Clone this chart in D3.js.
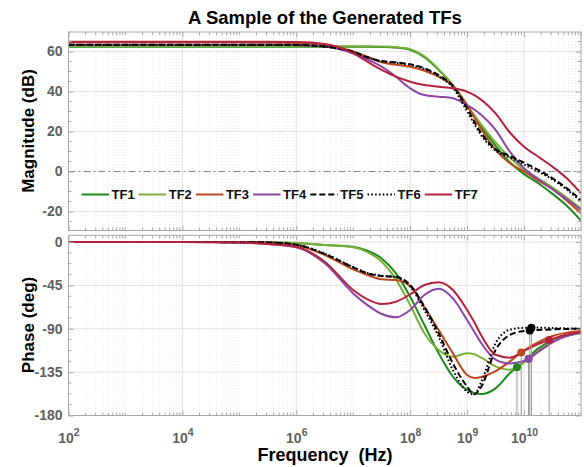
<!DOCTYPE html>
<html><head><meta charset="utf-8">
<script src="https://cdn.jsdelivr.net/npm/d3@7"></script>
<style>
body{margin:0;background:#fff;}
svg{display:block;font-family:"Liberation Sans",Arial,sans-serif;}
</style></head><body>
<svg id="c" width="584" height="467"></svg>
<script>
// ---------- data ----------
const logFreq = [2, 4, 5, 5.5, 6, 6.5, 7, 7.25, 7.5, 7.75, 8, 8.25, 8.5, 8.75, 9, 9.125, 9.25, 9.5, 9.75, 10, 10.25, 10.5, 10.75, 11];
const seriesNames = ["TF1","TF2","TF3","TF4","TF5","TF6","TF7"];

const magTF1 = [62.4,62.4,62.4,62.4,62.4,62.4,62.4,62.4,62.3,62.0,60.8,57.1,50.8,43.2,32.8,27.5,22.4,12.8,4.6,-1.3,-5.9,-11.2,-17.1,-24.6];
const magTF2 = [62.6,62.6,62.6,62.6,62.6,62.6,62.6,62.6,62.5,62.2,61.2,57.6,51.2,43.2,33.2,28.2,23.5,14.5,7.0,1.0,-3.5,-8.0,-13.0,-18.5];
const magTF3 = [64.6,64.6,64.6,64.5,64.3,63.5,60.0,57.4,54.6,53.4,52.4,50.4,47.4,42.8,33.2,27.2,21.1,10.8,4.1,0.0,-4.6,-8.9,-14.6,-20.9];
const magTF4 = [63.4,63.4,63.4,63.4,63.3,62.5,59.1,56.1,52.4,47.4,41.6,38.2,37.4,36.6,33.2,31.0,28.2,20.8,9.9,1.6,-3.9,-8.9,-13.9,-19.2];
const magTF5 = [63.4,63.4,63.4,63.4,63.3,62.5,59.9,57.1,55.2,54.6,53.6,51.6,48.2,42.8,31.6,25.0,19.1,11.1,7.8,4.4,0.8,-3.4,-8.4,-14.2];
const magTF6 = [63.3,63.3,63.3,63.3,63.2,62.4,59.7,57.0,55.0,54.3,53.3,51.2,47.6,42.0,30.0,23.8,18.0,10.5,7.0,3.5,0.0,-4.0,-9.0,-15.0];
const magTF7 = [64.9,64.9,64.9,64.9,64.8,63.8,59.1,54.9,50.8,47.4,44.9,43.2,42.4,41.6,39.9,38.2,35.8,29.1,19.5,12.4,7.4,2.4,-3.4,-10.9];

const phaseTF1 = [0,0,-0.2,-0.4,-1.0,-3.0,-4.8,-9.0,-17.0,-32.5,-56.7,-86.1,-115.5,-139.7,-153.5,-156.5,-157.7,-151.8,-136.2,-124.0,-110.3,-101.7,-96.5,-94.0];
const phaseTF2 = [0,0,-0.2,-0.4,-1.0,-3.0,-5.5,-10.4,-20.4,-38.7,-65.4,-94.7,-112.0,-119.0,-115.5,-116.5,-120.0,-129.0,-132.5,-125.0,-113.0,-102.7,-97.5,-94.7];
const phaseTF3 = [0,0,-0.2,-0.5,-3.0,-13.5,-28.4,-34.2,-38.7,-39.4,-45.6,-67.8,-91.3,-115.5,-138.0,-141.0,-140.0,-134.0,-124.0,-112.5,-104.0,-97.5,-94.0,-92.3];
const phaseTF4 = [0,0,-0.5,-2.0,-5.5,-22.0,-53.3,-65.4,-74.7,-78.1,-70.5,-55.0,-48.5,-58.4,-80.9,-93.0,-105.0,-122.0,-126.0,-123.5,-114.0,-104.0,-97.5,-94.0];
const phaseTF5 = [0,0,-0.2,-0.5,-2.8,-12.4,-26.3,-32.5,-35.3,-36.0,-44.6,-67.0,-94.7,-125.9,-150.0,-158.0,-150.0,-112.0,-96.5,-92.3,-91.3,-90.6,-90.2,-90.0];
const phaseTF6 = [0,0,-0.2,-0.5,-2.8,-12.0,-26.0,-32.0,-35.0,-36.5,-46.3,-70.5,-98.2,-132.8,-155.3,-158.0,-145.0,-105.0,-91.0,-89.0,-88.8,-89.2,-89.6,-90.0];
const phaseTF7 = [0,0,-0.5,-2.0,-4.8,-20.4,-49.8,-59.5,-64.3,-61.9,-54.3,-44.6,-41.8,-49.8,-70.5,-83.0,-97.0,-117.0,-120.0,-113.0,-106.0,-100.5,-96.0,-93.0];

const markerLogFreq = [9.875, 10.08, 9.95, 10.08, 10.1, 10.13, 10.44];

const xTickExps = [2, 4, 6, 8, 9, 10];
const magTicks = [-20, 0, 20, 40, 60];
const phaseTicks = [-180, -135, -90, -45, 0];

const colors = ["#1e8a1e", "#7ab03a", "#bd4a1c", "#8e45a8", "#000000", "#000000", "#b3243c"];
const dashes = [null, null, null, null, "6,3", "1.6,2.2", null];

// ---------- layout ----------
const svg = d3.select("#c");
const X0 = 68.5, X1 = 581;
const x = d3.scaleLog().domain([1e2, 1e11]).range([X0, X1]);
const magTop = 32, magBot = 230.5, phTop = 235.3, phBot = 415.5;
const yMag = d3.scaleLinear().domain([-29.5, 69.75]).range([magBot, magTop]);
const yPh = d3.scaleLinear().domain([-180, 7]).range([phBot, phTop]);

const freqs = logFreq.map(e => Math.pow(10, e));
const mags = [magTF1, magTF2, magTF3, magTF4, magTF5, magTF6, magTF7];
const phases = [phaseTF1, phaseTF2, phaseTF3, phaseTF4, phaseTF5, phaseTF6, phaseTF7];

const majorX = xTickExps.map(e => Math.pow(10, e));
const minorX = [];
for (let n = 2; n <= 10; n++) for (let k = 1; k <= 9; k++) minorX.push(k * Math.pow(10, n));
minorX.push(1e11);
const minorOnly = minorX.filter(v => !majorX.some(m => Math.abs(m - v) / m < 1e-9));

const axisCol = "#a8a8a8", gridCol = "#e2e2e2", labCol = "#5f5f5f";

function panel(y, top, bot, yTicks, id) {
  const g = svg.append("g");
  g.selectAll(null).data(minorOnly).join("line")
    .attr("x1", d => x(d)).attr("x2", d => x(d)).attr("y1", top).attr("y2", bot)
    .attr("stroke", "#e0e0e0").attr("stroke-width", 0.7).attr("stroke-dasharray", "1,2");
  g.selectAll(null).data(majorX).join("line")
    .attr("x1", d => x(d)).attr("x2", d => x(d)).attr("y1", top).attr("y2", bot)
    .attr("stroke", gridCol).attr("stroke-width", 1);
  g.selectAll(null).data(yTicks).join("line")
    .attr("x1", X0).attr("x2", X1).attr("y1", d => y(d)).attr("y2", d => y(d))
    .attr("stroke", gridCol).attr("stroke-width", 1);
  svg.append("clipPath").attr("id", id).append("rect")
    .attr("x", X0).attr("y", top).attr("width", X1 - X0).attr("height", bot - top);
  return g;
}

function frame(y, top, bot, yTicks, yMinor, showXLabels) {
  const g = svg.append("g");
  const left = d3.axisLeft(y).tickValues(yTicks).tickSize(-5).tickPadding(6).tickFormat(d => String(d));
  const gl = g.append("g").attr("transform", `translate(${X0},0)`).call(left);
  gl.select(".domain").remove();
  gl.selectAll(".tick line").attr("stroke", axisCol);
  gl.selectAll(".tick text").attr("fill", labCol).attr("font-size", 14).attr("font-weight", "bold")
    .attr("font-family", "Liberation Sans, Arial, sans-serif");
  const right = d3.axisRight(y).tickValues(yTicks).tickSize(-5).tickFormat("");
  const gr = g.append("g").attr("transform", `translate(${X1},0)`).call(right);
  gr.select(".domain").remove();
  gr.selectAll(".tick line").attr("stroke", axisCol);
  [X0, X1].forEach((xx, i) => {
    g.selectAll(null).data(yMinor).join("line")
      .attr("x1", xx).attr("x2", i === 0 ? xx + 3 : xx - 3)
      .attr("y1", d => y(d)).attr("y2", d => y(d)).attr("stroke", axisCol);
  });
  const bottom = d3.axisBottom(x).tickValues(majorX).tickSize(-5).tickPadding(13).tickFormat(() => "");
  const gb = g.append("g").attr("transform", `translate(0,${bot})`).call(bottom);
  gb.select(".domain").remove();
  gb.selectAll(".tick line").attr("stroke", axisCol);
  const topAx = d3.axisTop(x).tickValues(majorX).tickSize(-5).tickFormat(() => "");
  const gt = g.append("g").attr("transform", `translate(0,${top})`).call(topAx);
  gt.select(".domain").remove();
  gt.selectAll(".tick line").attr("stroke", axisCol);
  [top, bot].forEach((yy, i) => {
    g.selectAll(null).data(minorOnly).join("line")
      .attr("x1", d => x(d)).attr("x2", d => x(d))
      .attr("y1", yy).attr("y2", i === 0 ? yy + 3 : yy - 3).attr("stroke", axisCol);
  });
  if (showXLabels) {
    gb.selectAll(".tick text").each(function(d) {
      const t = d3.select(this).text(null).attr("fill", labCol).attr("font-weight", "bold")
        .attr("font-family", "Liberation Sans, Arial, sans-serif").attr("y", 27).attr("dy", null);
      t.append("tspan").attr("font-size", 14).text("10");
      t.append("tspan").attr("font-size", 10.5).attr("dy", -7).text(Math.round(Math.log10(d)));
    });
  }
  g.append("rect").attr("x", X0).attr("y", top).attr("width", X1 - X0).attr("height", bot - top)
    .attr("fill", "none").attr("stroke", axisCol).attr("stroke-width", 1);
}

// ---------- magnitude panel ----------
panel(yMag, magTop, magBot, magTicks.filter(v => v !== 0), "clipMag");
svg.append("line").attr("x1", X0).attr("x2", X1).attr("y1", yMag(0)).attr("y2", yMag(0))
  .attr("stroke", "#8a8a8a").attr("stroke-width", 1).attr("stroke-dasharray", "7,3,2,3");

const lineMag = d3.line().x(d => x(d[0])).y(d => yMag(d[1])).curve(d3.curveMonotoneX);
const gMag = svg.append("g").attr("clip-path", "url(#clipMag)");
mags.forEach((arr, i) => {
  gMag.append("path").datum(freqs.map((f, j) => [f, arr[j]]))
    .attr("d", lineMag).attr("fill", "none").attr("stroke", colors[i]).attr("stroke-width", 2)
    .attr("stroke-dasharray", dashes[i]);
});
const magMinor = d3.range(-25, 70, 5).filter(v => !magTicks.includes(v));
frame(yMag, magTop, magBot, magTicks, magMinor, false);

// legend
const lg = svg.append("g");
seriesNames.forEach((name, i) => {
  const lx = 81.5 + i * 57.2, ly = 194.5;
  lg.append("line").attr("x1", lx).attr("x2", lx + 27.5).attr("y1", ly).attr("y2", ly)
    .attr("stroke", colors[i]).attr("stroke-width", 2).attr("stroke-dasharray", dashes[i]);
  lg.append("text").attr("x", lx + 30).attr("y", ly + 4.7).text(name)
    .attr("font-size", 13).attr("font-weight", "bold").attr("fill", "#111");
});

// ---------- phase panel ----------
panel(yPh, phTop, phBot, phaseTicks, "clipPh");
const linePh = d3.line().x(d => x(d[0])).y(d => yPh(d[1])).curve(d3.curveMonotoneX);
const gPh = svg.append("g").attr("clip-path", "url(#clipPh)");
const phPaths = phases.map((arr, i) =>
  gPh.append("path").datum(freqs.map((f, j) => [f, arr[j]]))
    .attr("d", linePh).attr("fill", "none").attr("stroke", colors[i]).attr("stroke-width", 2)
    .attr("stroke-dasharray", dashes[i]).node());

function pointAtX(path, tx) {
  const L = path.getTotalLength();
  let lo = 0, hi = L;
  for (let k = 0; k < 40; k++) {
    const mid = (lo + hi) / 2;
    if (path.getPointAtLength(mid).x < tx) lo = mid; else hi = mid;
  }
  return path.getPointAtLength((lo + hi) / 2);
}
const mk = svg.append("g");
const markerPts = markerLogFreq.map((e, i) => pointAtX(phPaths[i], x(Math.pow(10, e))));
markerPts.forEach(p => {
  mk.append("line").attr("x1", p.x).attr("x2", p.x).attr("y1", p.y).attr("y2", phBot)
    .attr("stroke", "#9a9a9a").attr("stroke-width", 1);
});
markerPts.forEach((p, i) => {
  mk.append("circle").attr("cx", p.x).attr("cy", p.y).attr("r", 4).attr("fill", colors[i]);
});
const phMinor = d3.range(-180, 7, 11.25).filter(v => !phaseTicks.includes(v));
frame(yPh, phTop, phBot, phaseTicks, phMinor, true);

// ---------- titles ----------
svg.append("text").attr("x", 325).attr("y", 24).attr("text-anchor", "middle")
  .attr("font-size", 18.5).attr("font-weight", "bold").attr("fill", "#000")
  .text("A Sample of the Generated TFs");
svg.append("text").attr("transform", "translate(33.5,131) rotate(-90)").attr("text-anchor", "middle")
  .attr("font-size", 17).attr("font-weight", "bold").attr("fill", "#000").text("Magnitude (dB)");
svg.append("text").attr("transform", "translate(33.5,325) rotate(-90)").attr("text-anchor", "middle")
  .attr("font-size", 17).attr("font-weight", "bold").attr("fill", "#000").text("Phase (deg)");
svg.append("text").attr("x", 325).attr("y", 461).attr("text-anchor", "middle")
  .style("white-space", "pre").attr("font-size", 18).attr("font-weight", "bold").attr("fill", "#000")
  .text("Frequency  (Hz)");
</script>
</body></html>
